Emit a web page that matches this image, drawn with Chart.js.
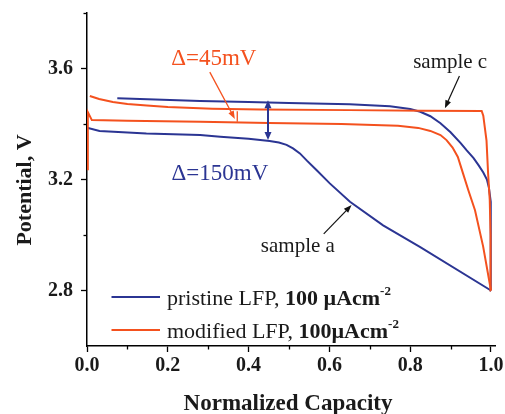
<!DOCTYPE html>
<html>
<head>
<meta charset="utf-8">
<script src="https://cdn.jsdelivr.net/npm/chart.js@4.4.1/dist/chart.umd.min.js"></script>
<style>
  html,body{margin:0;padding:0;background:#fff;}
  #wrap{width:505px;height:414px;position:relative;}
</style>
</head>
<body>
<div id="wrap"><canvas id="c" width="505" height="414"></canvas></div>
<script>
// ---- data (normalized capacity, potential V) ----
const pristineDischargeX = [0.0, 0.031, 0.147, 0.28, 0.33, 0.40, 0.452, 0.475, 0.494, 0.51, 0.527, 0.545, 0.568, 0.601, 0.651, 0.733, 0.825, 1.0];
const pristineDischargeV = [3.387, 3.375, 3.366, 3.360, 3.354, 3.347, 3.339, 3.333, 3.325, 3.312, 3.294, 3.267, 3.234, 3.186, 3.120, 3.035, 2.956, 2.8];

const pristineChargeX = [1.0, 1.0, 0.999, 0.995, 0.99, 0.981, 0.97, 0.957, 0.94, 0.925, 0.9, 0.875, 0.85, 0.825, 0.8, 0.75, 0.65, 0.5, 0.4, 0.28, 0.15, 0.075];
const pristineChargeV = [2.8, 3.04, 3.12, 3.17, 3.20, 3.225, 3.25, 3.277, 3.305, 3.331, 3.37, 3.403, 3.428, 3.444, 3.454, 3.464, 3.471, 3.476, 3.479, 3.483, 3.489, 3.493];

const modifiedDischargeX = [0.002, 0.002, 0.012, 0.1, 0.28, 0.45, 0.63, 0.77, 0.82, 0.85, 0.875, 0.89, 0.905, 0.918, 0.931, 0.944, 0.9605, 0.9807, 1.0];
const modifiedDischargeV = [3.233, 3.443, 3.414, 3.412, 3.408, 3.404, 3.400, 3.394, 3.386, 3.375, 3.360, 3.342, 3.315, 3.281, 3.221, 3.161, 3.089, 2.958, 2.8];

const modifiedChargeX = [1.0, 0.999, 0.997, 0.993, 0.989, 0.981, 0.977, 0.83, 0.65, 0.43, 0.31, 0.2, 0.148, 0.1, 0.064, 0.03, 0.007];
const modifiedChargeV = [2.8, 3.0, 3.126, 3.22, 3.34, 3.43, 3.447, 3.448, 3.450, 3.452, 3.455, 3.461, 3.467, 3.472, 3.479, 3.49, 3.501];

const xMajorTicks = [0.0, 0.2, 0.4, 0.6, 0.8, 1.0];
const xMinorTicks = [0.1, 0.3, 0.5, 0.7, 0.9];
const yMajorTicks = [2.8, 3.2, 3.6];
const yMinorTicks = [3.0, 3.4, 3.8];

const seriesLabels = ['pristine LFP, 100 µAcm⁻²', 'modified LFP, 100µAcm⁻²'];

const BLUE = '#2b3593';
const RED = '#f4511e';
const SERIF = '"Liberation Serif", "Times New Roman", serif';

function pts(xs, vs){ return xs.map((x,i)=>({x:x, y:vs[i]})); }

function arrowHead(ctx, x1, y1, x2, y2, len, wid){
  const a = Math.atan2(y2-y1, x2-x1);
  ctx.beginPath();
  ctx.moveTo(x2, y2);
  ctx.lineTo(x2 - len*Math.cos(a) + wid*Math.sin(a), y2 - len*Math.sin(a) - wid*Math.cos(a));
  ctx.lineTo(x2 - len*Math.cos(a) - wid*Math.sin(a), y2 - len*Math.sin(a) + wid*Math.cos(a));
  ctx.closePath();
  ctx.fill();
}
function arrow(ctx, x1, y1, x2, y2, color, lw, len, wid, both){
  ctx.save();
  ctx.strokeStyle = color; ctx.fillStyle = color; ctx.lineWidth = lw;
  const a = Math.atan2(y2-y1, x2-x1);
  const sx = both ? x1 + len*0.7*Math.cos(a) : x1, sy = both ? y1 + len*0.7*Math.sin(a) : y1;
  ctx.beginPath();
  ctx.moveTo(sx, sy);
  ctx.lineTo(x2 - len*0.7*Math.cos(a), y2 - len*0.7*Math.sin(a));
  ctx.stroke();
  arrowHead(ctx, x1, y1, x2, y2, len, wid);
  if (both) arrowHead(ctx, x2, y2, x1, y1, len, wid);
  ctx.restore();
}

const annotations = {
  id: 'annotations',
  afterDraw(chart){
    const ctx = chart.ctx;
    const xs = chart.scales.x, ys = chart.scales.y;
    const px = v => xs.getPixelForValue(v);
    const py = v => ys.getPixelForValue(v);
    const area = chart.chartArea;

    // minor ticks
    ctx.save();
    ctx.strokeStyle = '#000'; ctx.lineWidth = 1.3;
    xMinorTicks.forEach(v => { const X = Math.round(px(v))+0.5; ctx.beginPath(); ctx.moveTo(X, area.bottom); ctx.lineTo(X, area.bottom+3.5); ctx.stroke(); });
    yMinorTicks.forEach(v => { const Y = Math.round(py(v))+0.5; ctx.beginPath(); ctx.moveTo(area.left, Y); ctx.lineTo(area.left-3.5, Y); ctx.stroke(); });
    ctx.restore();

    ctx.save();
    ctx.textBaseline = 'alphabetic';
    ctx.textAlign = 'center';

    // axis titles
    ctx.fillStyle = '#1a1a1a';
    ctx.font = 'bold 23px ' + SERIF;
    ctx.fillText('Normalized Capacity', (area.left+area.right)/2 - 3, 410);
    ctx.save();
    ctx.translate(31, 190);
    ctx.rotate(-Math.PI/2);
    ctx.font = 'bold 22px ' + SERIF;
    ctx.fillText('Potential, V', 0, 0);
    ctx.restore();

    // Δ=45mV
    ctx.fillStyle = RED;
    ctx.font = '23px ' + SERIF;
    ctx.fillText('Δ=45mV', px(0.314), 65);
    arrow(ctx, px(0.304), py(3.587), px(0.366), py(3.418), RED, 1.3, 8, 3, false);
    ctx.strokeStyle = RED; ctx.lineWidth = 1.3;
    ctx.beginPath(); ctx.moveTo(px(0.372), py(3.446)); ctx.lineTo(px(0.372), py(3.408)); ctx.stroke();

    // Δ=150mV
    ctx.fillStyle = BLUE;
    ctx.fillText('Δ=150mV', px(0.329), 180);
    arrow(ctx, px(0.448), py(3.486), px(0.448), py(3.342), BLUE, 2, 8, 3.5, true);

    // sample labels
    ctx.fillStyle = '#1a1a1a';
    ctx.font = '21px ' + SERIF;
    ctx.fillText('sample c', px(0.899), 68);
    arrow(ctx, px(0.922), py(3.573), px(0.886), py(3.457), '#111', 1.2, 8, 3, false);
    ctx.fillText('sample a', px(0.522), 252);
    arrow(ctx, px(0.586), py(3.004), px(0.655), py(3.108), '#111', 1.2, 8, 3, false);

    // legend
    ctx.textAlign = 'left';
    const rows = [
      {color: BLUE, y: 297, base: 305, a: 'pristine LFP, ', b: '100 µAcm'},
      {color: RED,  y: 330, base: 338, a: 'modified LFP, ', b: '100µAcm'}
    ];
    rows.forEach(r => {
      ctx.strokeStyle = r.color; ctx.lineWidth = 2;
      ctx.beginPath(); ctx.moveTo(area.left+24.5, r.y); ctx.lineTo(area.left+73, r.y); ctx.stroke();
      let X = area.left + 80;
      ctx.fillStyle = '#1a1a1a';
      ctx.font = '22px ' + SERIF;
      ctx.fillText(r.a, X, r.base); X += ctx.measureText(r.a).width;
      ctx.font = 'bold 22px ' + SERIF;
      ctx.fillText(r.b, X, r.base); X += ctx.measureText(r.b).width;
      ctx.font = 'bold 13px ' + SERIF;
      ctx.fillText('-2', X, r.base - 10);
    });
    ctx.restore();
  }
};

new Chart(document.getElementById('c'), {
  type: 'scatter',
  data: {
    datasets: [
      {label: seriesLabels[1] + ' (discharge)', data: pts(modifiedDischargeX, modifiedDischargeV), borderColor: RED},
      {label: seriesLabels[1] + ' (charge)', data: pts(modifiedChargeX, modifiedChargeV), borderColor: RED},
      {label: seriesLabels[0] + ' (discharge)', data: pts(pristineDischargeX, pristineDischargeV), borderColor: BLUE},
      {label: seriesLabels[0] + ' (charge)', data: pts(pristineChargeX, pristineChargeV), borderColor: BLUE}
    ].map(d => Object.assign(d, {showLine: true, pointRadius: 0, borderWidth: 2, tension: 0, fill: false}))
  },
  options: {
    responsive: false,
    animation: false,
    layout: {padding: {top: 13, right: 10, left: 0, bottom: 0}},
    plugins: {legend: {display: false}, tooltip: {enabled: false}},
    scales: {
      x: {
        type: 'linear', min: 0, max: 1.01,
        afterBuildTicks: s => { s.ticks = xMajorTicks.map(v => ({value: v})); },
        afterFit: s => { s.height = 68; s.paddingLeft = 0; s.paddingRight = 0; },
        grid: {drawOnChartArea: false, tickLength: 6, tickColor: '#000', tickWidth: 1.3},
        border: {display: true, color: '#000', width: 1.5},
        ticks: {color: '#1a1a1a', font: {family: SERIF, size: 20, weight: 'bold'}, padding: 2, maxRotation: 0,
          callback: v => v.toFixed(1)}
      },
      y: {
        type: 'linear', min: 2.6, max: 3.8,
        afterBuildTicks: s => { s.ticks = yMajorTicks.map(v => ({value: v})); },
        afterFit: s => { s.width = 87; s.paddingTop = 0; s.paddingBottom = 0; },
        grid: {drawOnChartArea: false, tickLength: 6, tickColor: '#000', tickWidth: 1.3},
        border: {display: true, color: '#000', width: 1.5},
        ticks: {color: '#1a1a1a', font: {family: SERIF, size: 20, weight: 'bold'}, padding: 8,
          callback: v => v.toFixed(1)}
      }
    }
  },
  plugins: [annotations]
});
</script>
</body>
</html>
